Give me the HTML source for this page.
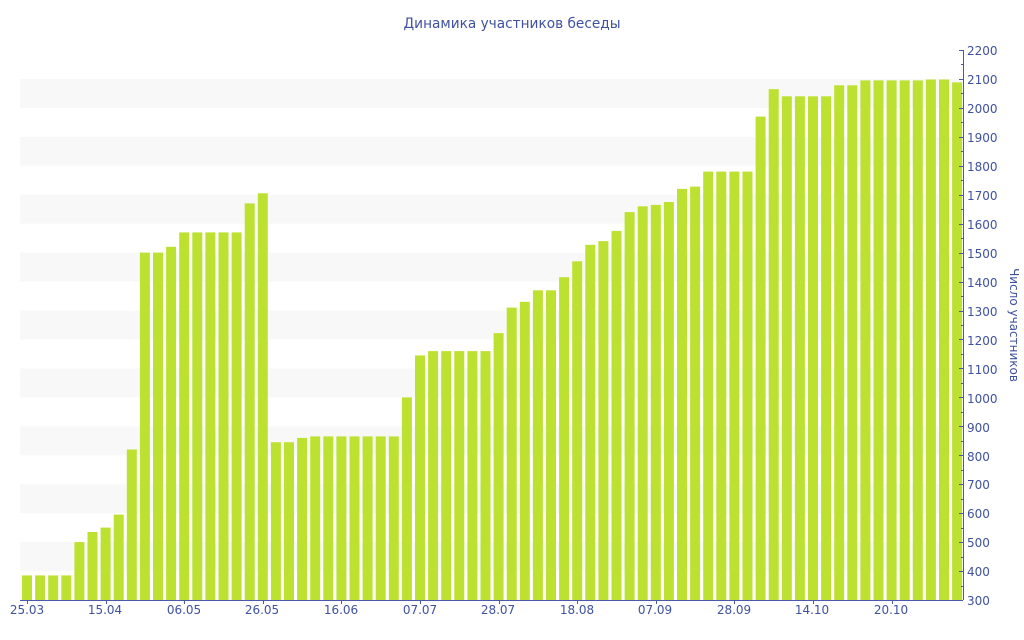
<!DOCTYPE html>
<html><head><meta charset="utf-8"><style>
html,body{margin:0;padding:0;background:#fff;width:1024px;height:640px;overflow:hidden}
svg{display:block}
text{font-family:"DejaVu Sans","Liberation Sans",sans-serif;fill:#3f51a0}
</style></head><body>
<svg id="s" width="1024" height="640" viewBox="0 0 1024 640" xmlns="http://www.w3.org/2000/svg">
<g id="bands"></g>
<g id="bars" fill="#bde130"></g>
<g id="ticks" stroke="#4a5aa8" stroke-width="1"></g>
<line x1="20" y1="600.5" x2="963" y2="600.5" stroke="#4a5aa8"/>
<line x1="963.5" y1="50" x2="963.5" y2="600" stroke="#4a5aa8"/>
<text x="512" y="28" font-size="14" text-anchor="middle" textLength="217" lengthAdjust="spacingAndGlyphs">Динамика участников беседы</text>
<g font-size="12">
<text x="967" y="55">2200</text>
<text x="967" y="84">2100</text>
<text x="967" y="113">2000</text>
<text x="967" y="142">1900</text>
<text x="967" y="171">1800</text>
<text x="967" y="200">1700</text>
<text x="967" y="229">1600</text>
<text x="967" y="258">1500</text>
<text x="967" y="287">1400</text>
<text x="967" y="316">1300</text>
<text x="967" y="345">1200</text>
<text x="967" y="374">1100</text>
<text x="967" y="403">1000</text>
<text x="967" y="432">900</text>
<text x="967" y="461">800</text>
<text x="967" y="489">700</text>
<text x="967" y="518">600</text>
<text x="967" y="547">500</text>
<text x="967" y="576">400</text>
<text x="967" y="605">300</text>
</g>
<g font-size="12" text-anchor="middle">
<text x="27" y="614">25.03</text>
<text x="105" y="614">15.04</text>
<text x="184" y="614">06.05</text>
<text x="262" y="614">26.05</text>
<text x="341" y="614">16.06</text>
<text x="420" y="614">07.07</text>
<text x="498" y="614">28.07</text>
<text x="577" y="614">18.08</text>
<text x="655" y="614">07.09</text>
<text x="734" y="614">28.09</text>
<text x="812" y="614">14.10</text>
<text x="891" y="614">20.10</text>
</g>
<text font-size="12" transform="translate(1010,325) rotate(90)" text-anchor="middle">Число участников</text>
</svg>
<script>
var NS="http://www.w3.org/2000/svg";
function Y(v){return 600-(v-300)*550/1900;}
function el(p,n,a){var e=document.createElementNS(NS,n);for(var k in a)e.setAttribute(k,a[k]);p.appendChild(e);}
var bands=document.getElementById('bands');
for(var v=400;v<=2000;v+=200)el(bands,'rect',{x:20,y:Y(v+100),width:943,height:Y(v)-Y(v+100),fill:'#f8f8f8'});
var vals=[385,385,385,385,500,535,550,595,820,1500,1500,1520,1570,1570,1570,1570,1570,1670,1705,
845,845,860,865,865,865,865,865,865,865,1000,1145,1160,1160,1160,1160,1160,1222,1310,1330,1370,1370,
1415,1470,1527,1540,1575,1640,1660,1665,1675,1720,1728,1780,1780,1780,1780,1970,2065,2040,2040,2040,2040,
2078,2078,2095,2095,2095,2095,2095,2098,2098,2088];
var bars=document.getElementById('bars');
vals.forEach(function(v,i){var x=22+i*13.1;el(bars,'rect',{x:x.toFixed(1),y:Y(v).toFixed(1),width:10,height:(600-Y(v)).toFixed(1)});});
var t=document.getElementById('ticks');
for(var v=300;v<=2200;v+=50){var y=Math.round(Y(v))+0.5;el(t,'line',{x1:v%100==0?959:961,y1:y,x2:963,y2:y});}
for(var i=0;i<72;i+=6){var x=Math.round(27+i*13.1)+0.5;el(t,'line',{x1:x,y1:600,x2:x,y2:604});}
</script>
</body></html>
